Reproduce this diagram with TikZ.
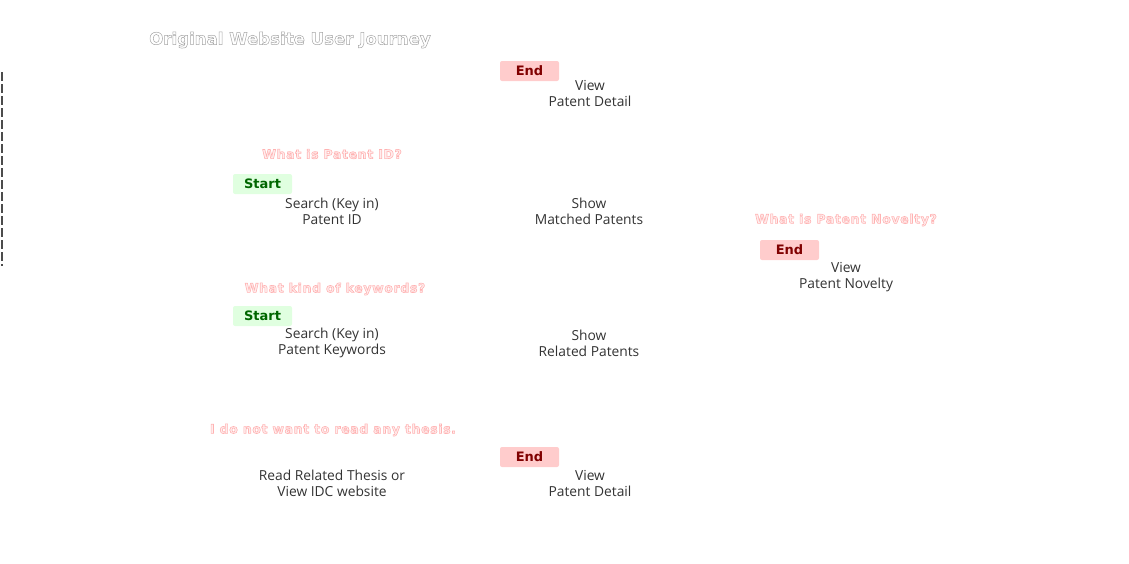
\documentclass[tikz,border=0pt]{standalone}
\usepackage{fontspec}
\setmainfont{Open Sans}
\newfontfamily\djv{DejaVu Sans}
\newfontfamily\djvq[LetterSpace=5]{DejaVu Sans}
\newcommand{\outl}[1]{\special{pdf:code 1 0.93 0.93 rg 2 Tr 0.6 w}#1\special{pdf:code 0 Tr}}
\newcommand{\outlo}[1]{\special{pdf:code 1 Tr 0.5 w}#1\special{pdf:code 0 Tr}}
\begin{document}
\begin{tikzpicture}[x=1pt,y=-1pt,
  lbl/.style={font=\fontsize{13.8}{16}\selectfont, text=black!80, align=center, inner sep=0pt},
  q/.style={font=\djvq\bfseries\fontsize{12.5}{14}\selectfont, text=red!30, inner sep=0pt},
  startbox/.style={fill=green!12!white, rounded corners=2pt, minimum width=59pt, minimum height=20pt, inner sep=0pt, font=\djv\bfseries\fontsize{13}{14}\selectfont, text=green!40!black},
  endbox/.style={fill=red!20!white, rounded corners=2pt, minimum width=59pt, minimum height=20pt, inner sep=0pt, font=\djv\bfseries\fontsize{13}{14}\selectfont, text=red!50!black},
]
\useasboundingbox (0,0) rectangle (1129,563);
\node[font=\djv\bfseries\fontsize{16.6}{18}\selectfont, text=black!35, inner sep=0pt] (title) at (290,40) {\outlo{Original Website User Journey}};
\coordinate (d1) at (2,72);
\coordinate (d2) at (2,266);
\draw[black!70, line width=1.5pt, dash pattern=on 9pt off 3pt] (d1) -- (d2);

\node[endbox] (e1) at (529.5,71) {End};
\node[lbl] (v1) at (590,93) {View\\Patent Detail};

\node[q] (q1) at (332,154) {\outl{What is Patent ID?}};
\node[startbox] (s1) at (262.5,184) {Start};
\node[lbl] (a1) at (332,211) {Search (Key in)\\Patent ID};
\node[lbl] (b1) at (589,211) {Show\\Matched Patents};

\node[q] (q2) at (846,220) {\outl{What is Patent Novelty?}};
\node[endbox] (e2) at (789.5,250) {End};
\node[lbl] (v2) at (846,277) {View\\Patent Novelty};

\node[q] (q3) at (335,289) {\outl{What kind of keywords?}};
\node[startbox] (s2) at (262.5,316) {Start};
\node[lbl] (a2) at (332,343) {Search (Key in)\\Patent Keywords};
\node[lbl] (b2) at (589,343) {Show\\Related Patents};

\node[q] (q4) at (333,430) {\outl{I do not want to read any thesis.}};
\node[endbox] (e3) at (529.5,457) {End};
\node[lbl] (a3) at (332,483) {Read Related Thesis or\\View IDC website};
\node[lbl] (v3) at (590,483) {View\\Patent Detail};
\end{tikzpicture}
\end{document}
